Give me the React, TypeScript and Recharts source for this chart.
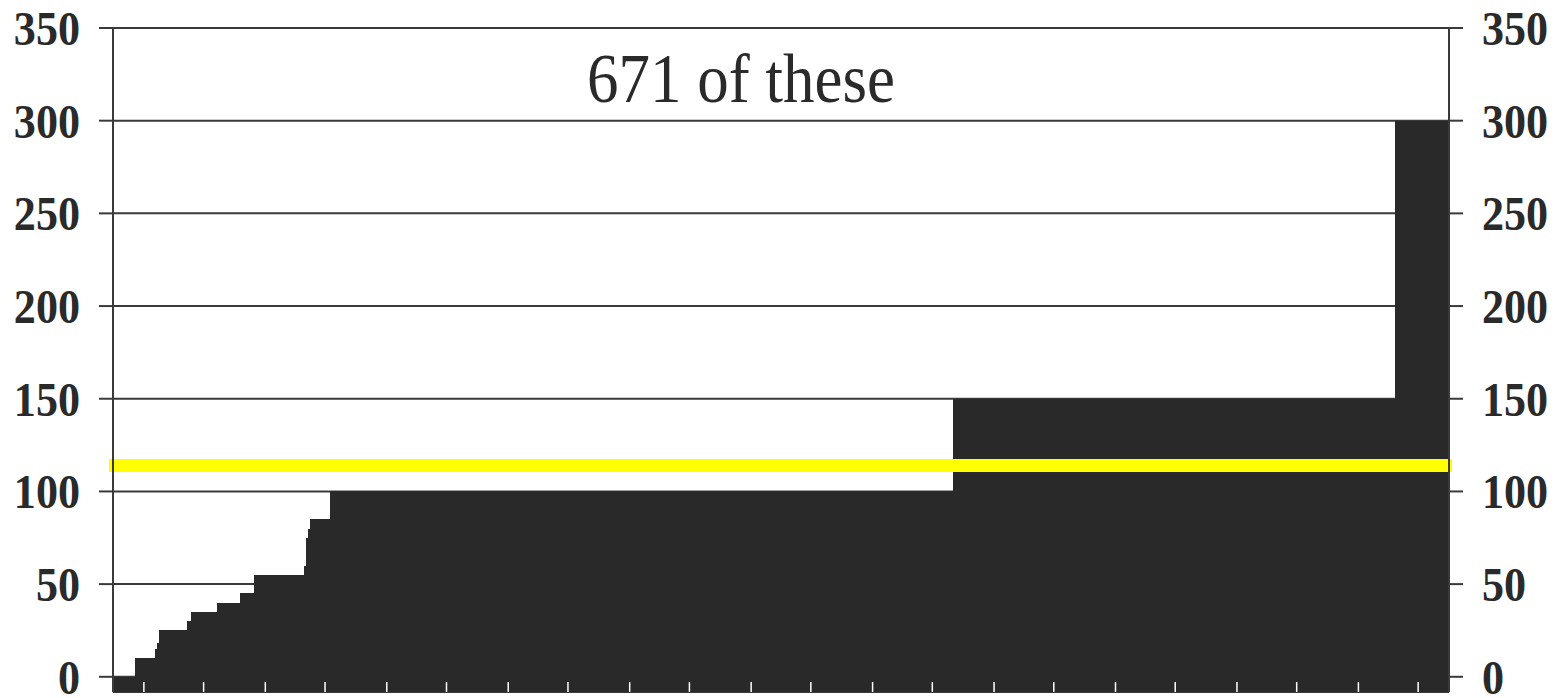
import { ComposedChart, Bar, Line, XAxis, YAxis, CartesianGrid, ReferenceLine } from 'recharts';

// Sorted values: value and how many bars carry it
const stepValues = [0, 10, 15, 18, 25, 30, 35, 40, 45, 55, 60, 75, 80, 85, 100, 150, 300];
const stepCounts = [11, 10, 1, 1, 14, 2, 13, 12, 7, 25, 1, 1, 1, 10, 313, 222, 27];

// y axis ticks
const yTicks = [0, 50, 100, 150, 200, 250, 300, 350];

// bar indices where the small white marks sit along the bottom edge
const bottomMarks = [15, 45, 76, 106, 137, 167, 198, 228, 259, 289, 320, 350, 381, 411, 442, 472, 503, 533, 564, 594, 625, 655];

// yellow line level
const averageLevel = 114;

const titleText = '671 of these';

const AXIS_MIN = -8.2;
const INK = '#2a2a2a';
const LINE = '#3a3a3a';
const FONT = '"Liberation Serif", "Times New Roman", serif';

const data = stepValues.flatMap((v, k) =>
  Array.from({ length: stepCounts[k] }, () => v)
).map((v, i) => ({ i, v }));

const LeftTick = ({ x, y, payload }: any) => (
  <g transform={`translate(${x},${y}) scale(0.9,1)`}>
    <text x={0} y={0} dy={17} textAnchor="end" fontFamily={FONT} fontWeight="bold" fontSize={49} fill={INK}>
      {payload.value}
    </text>
  </g>
);

const RightTick = ({ x, y, payload }: any) => (
  <g transform={`translate(${x},${y}) scale(0.9,1)`}>
    <text x={0} y={0} dy={17} textAnchor="start" fontFamily={FONT} fontWeight="bold" fontSize={49} fill={INK}>
      {payload.value}
    </text>
  </g>
);

// yellow band sticks out a few pixels past the plot edges
const YellowLine = ({ x1, x2, y1, y2 }: any) => (
  <line x1={x1 - 4} x2={x2 + 3} y1={y1} y2={y2} stroke="#ffff00" strokeWidth={13} />
);

// short white notch at the foot of the bars
const WhiteMark = ({ x1, y1, y2 }: any) => {
  const bottom = Math.max(y1, y2);
  return <line x1={x1} x2={x1} y1={bottom - 10} y2={bottom} stroke="#ffffff" strokeWidth={1.5} />;
};

export default function App() {
  return (
    <div style={{ position: 'absolute', left: 0, top: 0, width: 1562, height: 698, background: '#fff' }}>
      <ComposedChart
        width={1562}
        height={698}
        data={data}
        margin={{ top: 28, right: 0, bottom: 6, left: 0 }}
        barCategoryGap={0}
        barGap={0}
      >
        <CartesianGrid yAxisId="l" vertical={false} stroke={LINE} strokeWidth={2} />
        <XAxis dataKey="i" type="category" height={0} hide />
        <YAxis
          yAxisId="l"
          orientation="left"
          width={113}
          type="number"
          domain={[AXIS_MIN, 350]}
          ticks={yTicks}
          interval={0}
          tickSize={14}
          tickMargin={19}
          axisLine={{ stroke: LINE, strokeWidth: 2 }}
          tickLine={{ stroke: LINE, strokeWidth: 2 }}
          tick={<LeftTick />}
        />
        <YAxis
          yAxisId="r"
          orientation="right"
          width={113}
          type="number"
          domain={[AXIS_MIN, 350]}
          ticks={yTicks}
          interval={0}
          tickSize={14}
          tickMargin={19}
          axisLine={{ stroke: LINE, strokeWidth: 2 }}
          tickLine={{ stroke: LINE, strokeWidth: 2 }}
          tick={<RightTick />}
        />
        <Bar
          yAxisId="l"
          dataKey={(d: any) => [AXIS_MIN, d.v]}
          fill="#292929"
          shapeRendering="crispEdges"
          isAnimationActive={false}
        />
        {/* invisible series so the right axis is drawn */}
        <Line
          yAxisId="r"
          dataKey="v"
          stroke="none"
          dot={false}
          activeDot={false}
          legendType="none"
          isAnimationActive={false}
        />
        <ReferenceLine yAxisId="l" y={averageLevel} shape={<YellowLine />} />
        {bottomMarks.map((m) => (
          <ReferenceLine key={m} yAxisId="l" x={m} shape={<WhiteMark />} />
        ))}
      </ComposedChart>
      <svg
        width={1562}
        height={698}
        style={{ position: 'absolute', left: 0, top: 0, pointerEvents: 'none' }}
      >
        <g transform="translate(741,101.7) scale(0.913,1)">
          <text x={0} y={0} textAnchor="middle" fontFamily={FONT} fontSize={69} fill={INK}>
            {titleText}
          </text>
        </g>
      </svg>
    </div>
  );
}
